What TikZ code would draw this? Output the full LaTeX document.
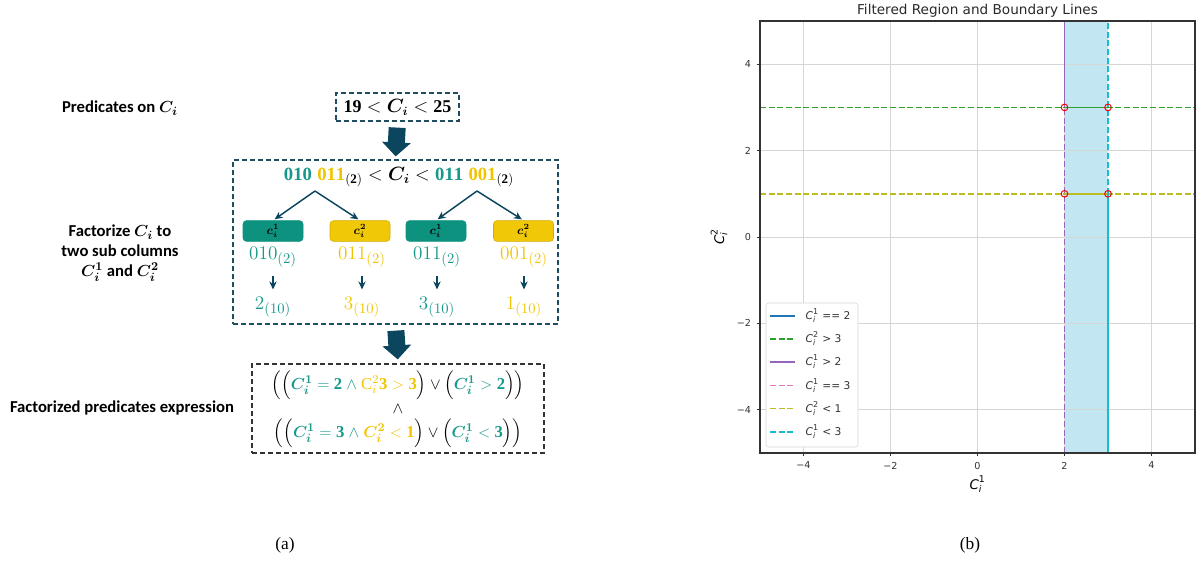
\documentclass[tikz,border=0pt]{standalone}
\usepackage{amsmath,bm}
\usepackage{fontspec}
\setmainfont{Liberation Serif}
\newfontfamily\calib{Carlito}
\newfontfamily\djv{DejaVu Sans}
\usetikzlibrary{arrows.meta,calc}
\definecolor{tealT}{RGB}{22,152,138}
\definecolor{tealB}{RGB}{14,146,128}
\definecolor{goldT}{RGB}{242,196,0}
\definecolor{goldB}{RGB}{240,200,8}
\definecolor{goldE}{RGB}{210,172,0}
\definecolor{darkA}{RGB}{12,70,94}
\definecolor{dashB}{RGB}{30,78,95}
\definecolor{mplblue}{RGB}{31,119,180}
\definecolor{mplgreen}{RGB}{44,160,44}
\definecolor{mplpurple}{RGB}{148,103,189}
\definecolor{mplpink}{RGB}{227,119,194}
\definecolor{mplolive}{RGB}{188,189,34}
\definecolor{mplcyan}{RGB}{23,190,207}
\definecolor{skyf}{RGB}{195,230,243}
\definecolor{gridc}{RGB}{214,214,214}
\definecolor{axc}{RGB}{51,51,51}
\newcommand{\tc}[1]{{\color{tealT}#1}}
\newcommand{\gc}[1]{{\color{goldT}#1}}
\newcommand{\mC}[1]{$\text{\djv\itshape C}_{\text{\djv\itshape i}}^{\text{\djv #1}}$}
\tikzset{
  lab/.style={font=\calib\bfseries\fontsize{12.5}{15}\selectfont, align=center},
  dbox/.style={draw=dashB, dashed, line width=0.9pt, dash pattern=on 3.5pt off 2.5pt},
  bigarrow/.style={draw=darkA, line width=12.75pt, -{Triangle[width=21pt,length=10.5pt]}},
  thinarrow/.style={draw=darkA, line width=1.1pt, -{Stealth[length=6pt,width=5.5pt]}},
  subbox/.style={rounded corners=2.5pt, minimum width=45pt, minimum height=15.5pt, inner sep=0pt, font=\fontsize{9}{10}\selectfont},
  binl/.style={font=\fontsize{15}{17}\selectfont},
  eqf/.style={font=\fontsize{14}{16}\selectfont},
  exf/.style={font=\fontsize{12.5}{15}\selectfont},
  tick/.style={font=\djv\fontsize{7.2}{8}\selectfont, text=axc},
  mline/.style={line width=1.3pt},
  mdash/.style={dashed, dash pattern=on 4.5pt off 2pt},
}
\begin{document}
\begin{tikzpicture}[x=0.75pt,y=-0.75pt]
\useasboundingbox (0,0) rectangle (1202,562);
% ---------------- (a) ----------------
\node[lab] (l1) at (120,108) {Predicates on $\boldsymbol{C_i}$};
\node[lab] (l2) at (120,253) {Factorize $\boldsymbol{C_i}$ to\\two sub columns\\$\boldsymbol{C_i^1}$ and $\boldsymbol{C_i^2}$};
\node[lab] (l3) at (122,408) {Factorized predicates expression};

\node[dbox, minimum width=123*0.75pt, minimum height=28*0.75pt, inner sep=0pt, font=\fontsize{13.5}{16}\selectfont] (b1) at (397.5,107) {$\mathbf{19} < \boldsymbol{C_i} < \mathbf{25}$};
\node[dbox, minimum width=325*0.75pt, minimum height=164*0.75pt, inner sep=0pt] (b2) at (395.5,242) {};
\node[dbox, draw=axc, minimum width=292*0.75pt, minimum height=89*0.75pt, inner sep=0pt] (b3) at (398,408.5) {};

\draw[bigarrow, shorten <=6*0.75pt, shorten >=3*0.75pt] (b1.south) -- (b2.north);
\draw[bigarrow, shorten <=6*0.75pt, shorten >=4*0.75pt] (b2.south) -- (b3.north);

\node[eqf] (eq) at (399,177) {$\tc{\mathbf{010}}\;\gc{\mathbf{011}}_{(\mathbf{2})} < \boldsymbol{C_i} < \tc{\mathbf{011}}\;\gc{\mathbf{001}}_{(\mathbf{2})}$};
\coordinate (ap1) at (315,191);
\coordinate (ap2) at (477,191);

\node[subbox, fill=tealB, draw=tealB] (s1) at (273,231) {$\boldsymbol{c_i^1}$};
\node[subbox, fill=goldB, draw=goldE] (s2) at (360,231) {$\boldsymbol{c_i^2}$};
\node[subbox, fill=tealB, draw=tealB] (s3) at (436,231) {$\boldsymbol{c_i^1}$};
\node[subbox, fill=goldB, draw=goldE] (s4) at (523.5,231) {$\boldsymbol{c_i^2}$};

\draw[thinarrow, shorten >=1.5pt] (ap1) -- (s1.north);
\draw[thinarrow, shorten >=1.5pt] (ap1) -- (s2.north);
\draw[thinarrow, shorten >=1.5pt] (ap2) -- (s3.north);
\draw[thinarrow, shorten >=1.5pt] (ap2) -- (s4.north);

\node[binl, text=tealT] (n1) at (273,257) {$010_{(2)}$};
\node[binl, text=goldT] (n2) at (362,257) {$011_{(2)}$};
\node[binl, text=tealT] (n3) at (437,257) {$011_{(2)}$};
\node[binl, text=goldT] (n4) at (524,257) {$001_{(2)}$};

\node[binl, text=tealT] (d1) at (273,307) {$2_{(10)}$};
\node[binl, text=goldT] (d2) at (362,307) {$3_{(10)}$};
\node[binl, text=tealT] (d3) at (437,307) {$3_{(10)}$};
\node[binl, text=goldT] (d4) at (524,307) {$1_{(10)}$};

\foreach \i in {1,2,3,4}{
  \draw[thinarrow, line width=1pt, shorten <=3pt, shorten >=2pt] (n\i.south) -- (d\i.north);
}

\node[exf] (e1) at (398,385) {$\Big(\Big(\tc{\boldsymbol{C_i^1} \mathrel{\mathbf{=}} \mathbf{2}\ \wedge}\ \gc{\mathrm{C}_i^2\mathbf{3} > \mathbf{3}}\Big) \vee \Big(\tc{\boldsymbol{C_i^1} > \mathbf{2}}\Big)\Big)$};
\node[exf] (e2) at (398,409) {$\wedge$};
\node[exf] (e3) at (398,433) {$\Big(\Big(\tc{\boldsymbol{C_i^1} \mathrel{\mathbf{=}} \mathbf{3}\ \wedge}\ \gc{\boldsymbol{C_i^2} < \mathbf{1}}\Big) \vee \Big(\tc{\boldsymbol{C_i^1} < \mathbf{3}}\Big)\Big)$};

\node[font=\fontsize{13}{15}\selectfont] (ca) at (285,545) {(a)};
\node[font=\fontsize{13}{15}\selectfont] (cb) at (970,545) {(b)};

% ---------------- (b) plot ----------------
\node[font=\djv\fontsize{10.2}{12}\selectfont, text=axc!80!black] (title) at (977.5,11) {Filtered Region and Boundary Lines};
\begin{scope}[shift={(733.125pt,-177.75pt)}, x=32.625pt, y=32.4pt]
  \fill[skyf] (2,-5) rectangle (3,5);
  \foreach \v in {-4,-2,0,2,4}{
    \draw[gridc, line width=0.6pt] (\v,-5) -- (\v,5);
    \draw[gridc, line width=0.6pt] (-5,\v) -- (5,\v);
  }
  \draw[mplgreen, mline, mdash] (-5,3) -- (5,3);
  \draw[mplgreen, mline] (2,3) -- (3,3);
  \draw[mplolive, mline, mdash] (-5,1) -- (5,1);
  \draw[mplolive, mline] (2,1) -- (3,1);
  \draw[mplpink, mline, mdash] (2,-5) -- (2,3);
  \draw[mplpurple, line width=0.9pt, mdash] (2,-5) -- (2,3);
  \draw[mplpurple, mline] (2,3) -- (2,5);
  \draw[mplcyan, mline, mdash] (3,1) -- (3,5);
  \draw[mplcyan, mline] (3,-5) -- (3,1);
  \foreach \p in {(2,3),(3,3),(2,1),(3,1)}{
    \draw[red, line width=0.75pt] \p circle (2.5pt);
  }
  \draw[axc, line width=0.8pt] (-5,-5) rectangle (5,5);
  \foreach \v/\t in {-4/−4,-2/−2,0/0,2/2,4/4}{
    \draw[axc, line width=0.6pt] (\v,-5) -- ++(0,-2.6pt) node[tick, below=0.5pt] {\t};
    \draw[axc, line width=0.6pt] (-5,\v) -- ++(-2.6pt,0) node[tick, left=0.5pt] {\t};
  }
\end{scope}
\node[font=\fontsize{10}{12}\selectfont] (xl) at (977.5,484) {\mC{1}};
\node[font=\fontsize{10}{12}\selectfont, rotate=90] (yl) at (719,237) {\mC{2}};

% legend
\node[draw=gridc, fill=white, rounded corners=2pt, minimum width=92*0.75pt, minimum height=144*0.75pt, inner sep=0pt] (leg) at (812,375) {};
\foreach \y/\c/\s/\t in {316/mplblue/solid/{\mC{1} == 2},339/mplgreen/mdash/{\mC{2} > 3},362/mplpurple/solid/{\mC{1} > 2},385.5/mplpink/mdash/{\mC{1} == 3},408.5/mplolive/mdash/{\mC{2} < 1},432/mplcyan/mdash/{\mC{1} < 3}}{
  \draw[\c, mline, \s] (770,\y) -- (795,\y);
  \node[font=\djv\fontsize{8}{9}\selectfont, anchor=west, text=axc] at (801,\y) {\t};
}
\end{tikzpicture}
\end{document}
